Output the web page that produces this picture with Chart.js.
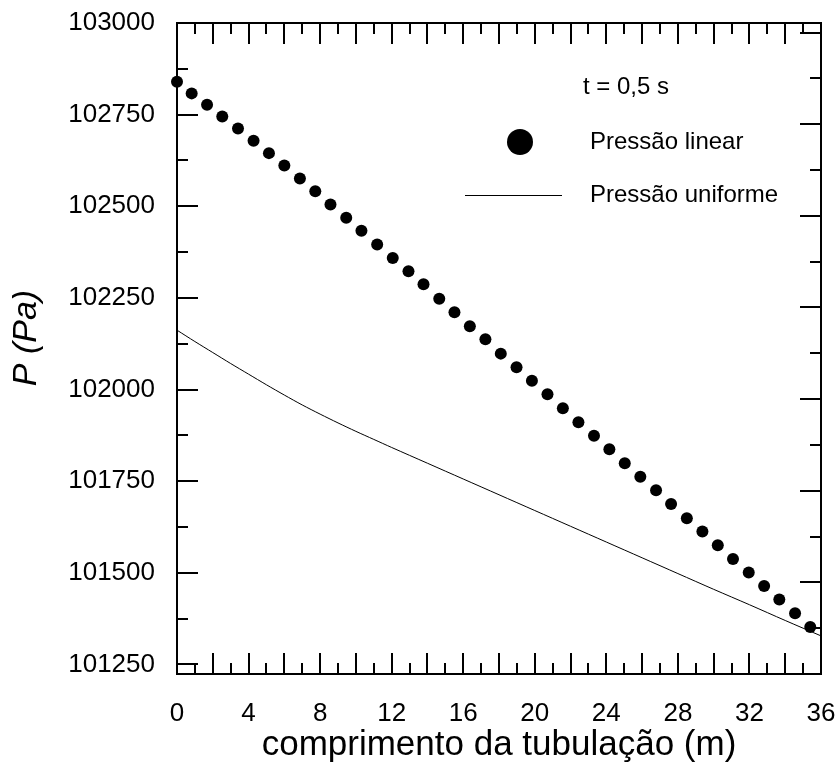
<!DOCTYPE html>
<html>
<head>
<meta charset="utf-8">
<script src="https://cdn.jsdelivr.net/npm/chart.js"></script>
<style>
  body { margin: 0; background: #fff; }
  #wrap { width: 840px; height: 767px; }
</style>
</head>
<body>
<div id="wrap"><canvas id="chart" width="840" height="767"></canvas></div>
<script>
// pressure along the pipe at t = 0.5 s
const linearX = [0, 0.82, 1.68, 2.53, 3.41, 4.28, 5.14, 6.00, 6.87, 7.73, 8.58, 9.46, 10.31, 11.19,
  12.06, 12.94, 13.78, 14.66, 15.51, 16.37, 17.24, 18.10, 18.98, 19.84, 20.71, 21.57, 22.44, 23.31,
  24.17, 25.03, 25.90, 26.78, 27.62, 28.50, 29.37, 30.23, 31.08, 31.96, 32.82, 33.67, 34.55, 35.40];
const linearP = [102840, 102808, 102777, 102745, 102712, 102679, 102645, 102611, 102576, 102541, 102505,
  102469, 102433, 102396, 102359, 102323, 102287, 102248, 102211, 102173, 102137, 102098, 102061, 102024,
  101987, 101949, 101911, 101874, 101837, 101799, 101762, 101725, 101688, 101649, 101613, 101575, 101538,
  101501, 101464, 101427, 101390, 101352];

const uniformX = [0, 1, 2, 3, 4, 5, 6, 7, 8, 9, 10, 11, 12, 14, 16, 18, 20, 22, 24, 26, 28, 30, 32, 34, 36];
const uniformP = [102162, 102131, 102101, 102071, 102042, 102013, 101985, 101958, 101933, 101909, 101886,
  101864, 101842, 101799, 101756, 101713, 101670, 101627, 101584, 101541, 101498, 101455, 101413, 101370, 101328];

const yTickValues = [101250, 101500, 101750, 102000, 102250, 102500, 102750, 103000];
const legendTime = 't = 0,5 s';
const labelLinear = 'Pressão linear';
const labelUniform = 'Pressão uniforme';

const FONT = '"Liberation Sans", Arial, sans-serif';

const toPoints = (xs, ys) => xs.map((x, i) => ({ x: x, y: ys[i] }));

// box around the plot with inward ticks on all four sides
const frameTicks = {
  id: 'frameTicks',
  beforeDatasetsDraw(chart) {
    const { ctx, chartArea: a, scales } = chart;
    const xs = scales.x, ys = scales.y;
    ctx.save();
    ctx.strokeStyle = '#000';
    ctx.lineWidth = 2;
    ctx.strokeRect(a.left, a.top, a.right - a.left, a.bottom - a.top);
    ctx.beginPath();
    for (let v = 1; v < 36; v++) {
      const px = Math.round(xs.getPixelForValue(v));
      const len = v % 2 === 0 ? 21 : 11;
      ctx.moveTo(px, a.bottom); ctx.lineTo(px, a.bottom - len);
      ctx.moveTo(px, a.top); ctx.lineTo(px, a.top + len);
    }
    // left side follows the labelled values
    for (let k = 0; ; k++) {
      const v = 101250 + 125 * k;
      if (v >= ys.max) break;
      const py = Math.round(ys.getPixelForValue(v));
      const len = k % 2 === 0 ? 21 : 11;
      ctx.moveTo(a.left, py); ctx.lineTo(a.left + len, py);
    }
    // right side counts up from the bottom of the axis
    for (let k = 1; ; k++) {
      const v = ys.min + 125 * k;
      if (v >= ys.max) break;
      const py = Math.round(ys.getPixelForValue(v));
      const len = k % 2 === 0 ? 21 : 11;
      ctx.moveTo(a.right, py); ctx.lineTo(a.right - len, py);
    }
    ctx.stroke();

    // y axis title, italic
    ctx.fillStyle = '#000';
    ctx.font = 'italic 34px ' + FONT;
    ctx.textAlign = 'center';
    ctx.textBaseline = 'middle';
    ctx.translate(27, 338);
    ctx.rotate(-Math.PI / 2);
    ctx.fillText('P (Pa)', 0, 0);
    ctx.restore();
  },
  afterDatasetsDraw(chart) {
    const { ctx } = chart;
    ctx.save();
    ctx.fillStyle = '#000';
    ctx.strokeStyle = '#000';
    ctx.font = '24px ' + FONT;
    ctx.textAlign = 'left';
    ctx.textBaseline = 'middle';
    ctx.fillText(legendTime, 583, 87);

    ctx.beginPath();
    ctx.arc(520, 142, 13, 0, Math.PI * 2);
    ctx.fill();
    ctx.fillText(labelLinear, 590, 142);

    ctx.lineWidth = 1;
    ctx.beginPath();
    ctx.moveTo(465, 195.5); ctx.lineTo(562, 195.5);
    ctx.stroke();
    ctx.fillText(labelUniform, 590, 195);
    ctx.restore();
  }
};

new Chart(document.getElementById('chart'), {
  type: 'scatter',
  data: {
    datasets: [{
      label: labelLinear,
      data: toPoints(linearX, linearP),
      showLine: false,
      pointRadius: 6,
      pointBackgroundColor: '#000',
      pointBorderWidth: 0,
      clip: false
    }, {
      label: labelUniform,
      data: toPoints(uniformX, uniformP),
      showLine: true,
      borderColor: '#000',
      borderWidth: 1,
      pointRadius: 0,
      tension: 0.3
    }]
  },
  options: {
    responsive: false,
    animation: false,
    layout: { padding: { top: 23, right: 19, left: 0, bottom: 0 } },
    plugins: { legend: { display: false }, tooltip: { enabled: false } },
    scales: {
      x: {
        type: 'linear',
        min: 0,
        max: 36,
        grid: { display: false, drawTicks: false, tickLength: 0 },
        border: { display: false },
        ticks: {
          stepSize: 4,
          padding: 24,
          color: '#000',
          font: { family: FONT, size: 26 },
          maxRotation: 0
        },
        title: {
          display: true,
          text: 'comprimento da tubulação (m)',
          color: '#000',
          font: { family: FONT, size: 35 },
          padding: { top: 0, bottom: 1 }
        },
        afterFit(scale) {
          scale.height = 93;
          scale.paddingLeft = 0;
          scale.paddingRight = 0;
        }
      },
      y: {
        type: 'linear',
        min: 101224,
        max: 103000,
        grid: { display: false, drawTicks: false, tickLength: 0 },
        border: { display: false },
        afterBuildTicks(scale) { scale.ticks = yTickValues.map(v => ({ value: v })); },
        ticks: {
          padding: 22,
          color: '#000',
          font: { family: FONT, size: 26 },
          callback: v => String(v)
        },
        afterFit(scale) {
          scale.width = 177;
          scale.paddingTop = 0;
          scale.paddingBottom = 0;
        }
      }
    }
  },
  plugins: [frameTicks]
});
</script>
</body>
</html>
